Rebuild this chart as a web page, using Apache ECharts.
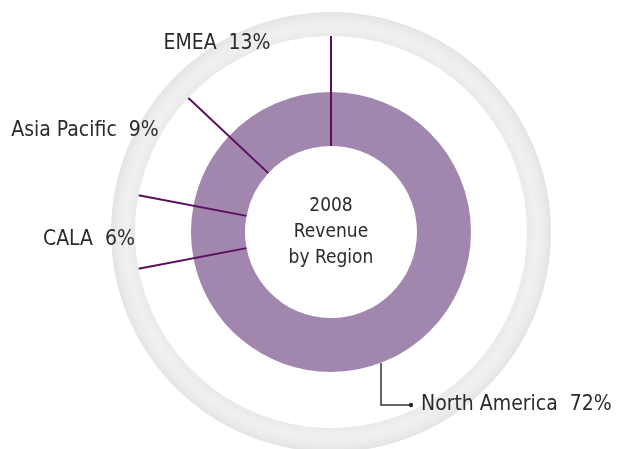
<!DOCTYPE html>
<html>
<head>
<meta charset="utf-8">
<script src="https://cdn.jsdelivr.net/npm/echarts@6/dist/echarts.min.js"></script>
<style>html,body{margin:0;padding:0;background:#fff;}#c{width:618px;height:449px;}</style>
</head>
<body>
<div id="c"></div>
<script>
// ---- data ----
const regions = ['North America', 'CALA', 'Asia Pacific', 'EMEA'];
const shares = [72, 6, 9, 13];
const centerTitle = ['2008', 'Revenue', 'by Region'];

// ---- layout / style ----
const FONT = "'DejaVu Sans Condensed', 'DejaVu Sans', sans-serif";
const CX = 331, CY = 232;
const labelPos = {
  'North America': { x: 421, y: 405, align: 'left', line: [[381, 363], [381, 405], [411, 405]] },
  'CALA': { x: 89, y: 240, align: 'center' },
  'Asia Pacific': { x: 85, y: 131, align: 'center' },
  'EMEA': { x: 217, y: 44, align: 'center' }
};

// boundaries (cumulative shares) for separator lines
const bounds = [];
let acc = 0;
shares.forEach(v => { bounds.push(acc); acc += v; });

const sepSeries = bounds.map(b => ({
  type: 'line',
  coordinateSystem: 'polar',
  data: [[86, b], [196, b]],
  symbol: 'none',
  silent: true,
  lineStyle: { color: '#5a0e60', width: 2 },
  z: 5
}));

const chart = echarts.init(document.getElementById('c'), null, { renderer: 'canvas' });
chart.setOption({
  animation: false,
  backgroundColor: '#ffffff',
  polar: { center: [CX, CY], radius: 196 },
  radiusAxis: { type: 'value', min: 0, max: 196, show: false },
  angleAxis: { type: 'value', min: 0, max: 100, startAngle: 90, clockwise: true, show: false },
  graphic: [
    {
      type: 'text', x: CX, y: CY, z: 10,
      style: {
        text: centerTitle.join('\n'),
        textAlign: 'center', textVerticalAlign: 'middle',
        align: 'center', verticalAlign: 'middle',
        font: "19px " + FONT,
        lineHeight: 26,
        fill: '#2b2b2b'
      }
    },
    {
      type: 'circle', shape: { cx: 411, cy: 405, r: 2.2 },
      style: { fill: '#2b2b2b' }, z: 10
    }
  ],
  series: [
    {
      type: 'pie',
      silent: true,
      center: [CX, CY],
      radius: [196, 220],
      label: { show: false },
      labelLine: { show: false },
      data: [{
        value: 1,
        itemStyle: {
          color: {
            type: 'radial', x: 0.5, y: 0.5, r: 0.5,
            colorStops: [
              { offset: 0, color: '#e8e9ea' },
              { offset: 0.89, color: '#e8e9ea' },
              { offset: 0.93, color: '#f0f0f0' },
              { offset: 0.97, color: '#ececec' },
              { offset: 1, color: '#e2e3e4' }
            ]
          }
        }
      }],
      z: 1
    },
    {
      type: 'pie',
      silent: true,
      center: [CX, CY],
      radius: [86, 140],
      startAngle: 90,
      clockwise: true,
      itemStyle: { color: '#a187ad', borderWidth: 0 },
      label: {
        show: true,
        formatter: p => p.name + '  ' + p.value + '%',
        fontFamily: FONT,
        fontSize: 21,
        color: '#2b2b2b',
        overflow: 'none',
        width: 300
      },
      labelLine: { show: true, lineStyle: { color: '#333333', width: 1.5 } },
      labelLayout: function (params) {
        const name = regions[params.dataIndex];
        const p = labelPos[name];
        const o = { x: p.x, y: p.y, align: p.align, verticalAlign: 'middle', width: 300 };
        if (p.line) o.labelLinePoints = p.line;
        return o;
      },
      data: regions.map((r, i) => ({
        name: r, value: shares[i],
        labelLine: { show: !!labelPos[r].line }
      })),
      z: 2
    }
  ].concat(sepSeries)
});
</script>
</body>
</html>
